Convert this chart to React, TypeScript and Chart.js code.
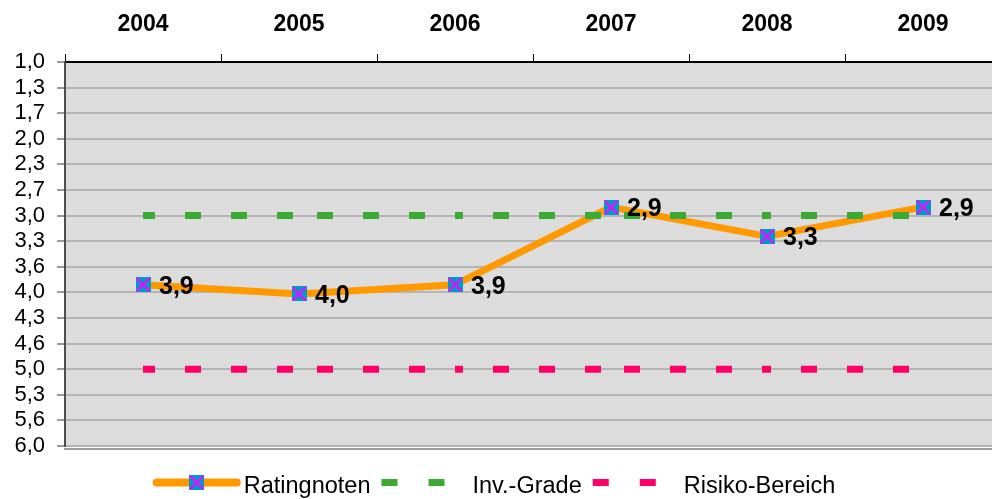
import React, { useEffect, useRef } from "react";
import { Chart, registerables } from "chart.js";

Chart.register(...registerables);

// ---- data ----
const YEARS = ["2004", "2005", "2006", "2007", "2008", "2009"];
const RATINGS = [3.9, 4.02, 3.9, 2.89, 3.27, 2.89];
const INV_GRADE = [3, 3, 3, 3, 3, 3];
const RISIKO = [5, 5, 5, 5, 5, 5];
const Y_TICK_LABELS = [
  "1,0", "1,3", "1,7", "2,0", "2,3", "2,7", "3,0", "3,3",
  "3,6", "4,0", "4,3", "4,6", "5,0", "5,3", "5,6", "6,0",
];
const SERIES_NAMES = ["Ratingnoten", "Inv.-Grade", "Risiko-Bereich"];
const Y_MIN = 1;
const Y_MAX = 6;

// ---- style ----
const FONT = '"Liberation Sans", Arial, Helvetica, sans-serif';
const ORANGE = "#FF9900";
const GREEN = "#3AAA35";
const PINK = "#FF0066";
const BLUE = "#0099CC";
const MAGENTA = "#FF00FF";
const DASH_OFFSETS = [4, 28, 8, 33, 12];
const RIGHT_OVERFLOW = 9; // plot area runs past the right edge of the canvas

function makeMarker(): HTMLCanvasElement {
  const c = document.createElement("canvas");
  c.width = 15;
  c.height = 15;
  const g = c.getContext("2d")!;
  g.fillStyle = BLUE;
  g.fillRect(0, 0, 15, 15);
  g.strokeStyle = MAGENTA;
  g.lineWidth = 2;
  g.beginPath();
  g.moveTo(1, 1);
  g.lineTo(14, 14);
  g.moveTo(14, 1);
  g.lineTo(1, 14);
  g.stroke();
  return c;
}

const fmt = (v: number) => v.toFixed(1).replace(".", ",");

export default function App() {
  const ref = useRef<HTMLCanvasElement | null>(null);

  useEffect(() => {
    document.body.style.margin = "0";
    const canvas = ref.current;
    if (!canvas) return;
    const marker = makeMarker();

    const stretchPlugin = {
      id: "stretchPlugin",
      afterLayout(chart: any) {
        const right = chart.width + RIGHT_OVERFLOW;
        chart.chartArea.right = right;
        chart.chartArea.width = right - chart.chartArea.left;
        const xs = chart.scales.x;
        xs.right = right;
        xs.width = right - xs.left;
        xs.configure();
      },
    };

    const bgPlugin = {
      id: "bgPlugin",
      beforeDraw(chart: any) {
        const { ctx, chartArea: a } = chart;
        ctx.save();
        ctx.fillStyle = "#DCDCDC";
        ctx.fillRect(a.left, a.top, a.right - a.left, a.bottom - a.top);
        ctx.restore();
      },
    };

    const labelPlugin = {
      id: "labelPlugin",
      afterDatasetsDraw(chart: any) {
        const { ctx } = chart;
        const meta = chart.getDatasetMeta(0);
        const data = chart.data.datasets[0].data as number[];
        ctx.save();
        ctx.font = `bold 25px ${FONT}`;
        ctx.fillStyle = "#000";
        ctx.textAlign = "left";
        ctx.textBaseline = "alphabetic";
        meta.data.forEach((el: any, i: number) => {
          ctx.fillText(fmt(data[i]), el.x + 16, el.y + 9);
        });
        ctx.restore();
      },
    };

    const decoPlugin = {
      id: "decoPlugin",
      afterDraw(chart: any) {
        const { ctx, chartArea: a } = chart;
        ctx.save();
        // bottom frame line
        ctx.strokeStyle = "#9A9A9A";
        ctx.lineWidth = 2;
        ctx.beginPath();
        ctx.moveTo(a.left - 1, a.bottom + 3);
        ctx.lineTo(a.right, a.bottom + 3);
        ctx.stroke();

        // legend
        const symW = 88;
        const gapText = 3;
        const gapItem = 11;
        ctx.font = `23.5px ${FONT}`;
        const widths = SERIES_NAMES.map((t) => ctx.measureText(t).width);
        const total =
          widths.reduce((s, w) => s + symW + gapText + w, 0) +
          gapItem * (SERIES_NAMES.length - 1);
        let x = (chart.width - total) / 2 - 2;
        const cy = 482.5;
        const base = 493;
        SERIES_NAMES.forEach((name, i) => {
          if (i === 0) {
            ctx.strokeStyle = ORANGE;
            ctx.lineWidth = 8;
            ctx.lineCap = "round";
            ctx.beginPath();
            ctx.moveTo(x + 4, cy);
            ctx.lineTo(x + symW - 4, cy);
            ctx.stroke();
            ctx.drawImage(marker, x + symW / 2 - 7.5, cy - 7.5);
          } else {
            ctx.fillStyle = i === 1 ? GREEN : PINK;
            ctx.fillRect(x, cy - 3.5, 16, 7);
            ctx.fillRect(x + 47, cy - 3.5, 16, 7);
          }
          ctx.fillStyle = "#000";
          ctx.textAlign = "left";
          ctx.textBaseline = "alphabetic";
          ctx.fillText(name, x + symW + gapText, base);
          x += symW + gapText + widths[i] + gapItem;
        });
        ctx.restore();
      },
    };

    const dashSeg = {
      borderDashOffset: (c: any) => DASH_OFFSETS[c.p0DataIndex] ?? 0,
    };

    const chart = new Chart(canvas, {
      type: "line",
      data: {
        labels: YEARS,
        datasets: [
          {
            label: SERIES_NAMES[0],
            data: RATINGS,
            showLine: false,
            pointStyle: marker as any,
            pointRadius: 7,
            pointHoverRadius: 7,
            borderColor: ORANGE,
            backgroundColor: BLUE,
          },
          {
            label: SERIES_NAMES[1],
            data: INV_GRADE,
            borderColor: GREEN,
            borderWidth: 7,
            borderDash: [16, 30],
            pointRadius: 0,
            fill: false,
            segment: dashSeg as any,
          },
          {
            label: SERIES_NAMES[2],
            data: RISIKO,
            borderColor: PINK,
            borderWidth: 7,
            borderDash: [16, 30],
            pointRadius: 0,
            fill: false,
            segment: dashSeg as any,
          },
          {
            label: SERIES_NAMES[0] + " (Linie)",
            data: RATINGS,
            borderColor: ORANGE,
            borderWidth: 7,
            pointRadius: 0,
            tension: 0,
            borderJoinStyle: "round",
            borderCapStyle: "round",
            fill: false,
          },
        ],
      },
      options: {
        responsive: false,
        animation: false,
        devicePixelRatio: 1,
        layout: { padding: { left: 0, right: 0, top: 0, bottom: 53 } },
        plugins: {
          legend: { display: false },
          tooltip: { enabled: false },
        },
        scales: {
          x: {
            type: "category",
            position: "top",
            offset: true,
            grid: {
              offset: true,
              drawOnChartArea: false,
              drawTicks: true,
              tickLength: 8,
              tickColor: "#000",
              tickWidth: 1,
            },
            border: { display: true, color: "#000", width: 2 },
            ticks: {
              color: "#000",
              font: { family: FONT, size: 23, weight: "bold" },
              padding: 16,
              maxRotation: 0,
              autoSkip: false,
            },
            afterFit(s: any) {
              s.height = 62;
            },
          },
          y: {
            type: "linear",
            reverse: true,
            min: Y_MIN,
            max: Y_MAX,
            afterBuildTicks(s: any) {
              const n = Y_TICK_LABELS.length - 1;
              s.ticks = Y_TICK_LABELS.map((_, i) => ({
                value: Y_MIN + ((Y_MAX - Y_MIN) * i) / n,
              }));
            },
            ticks: {
              callback: (_v: any, i: number) => Y_TICK_LABELS[i],
              color: "#000",
              font: { family: FONT, size: 22 },
              padding: 12,
              autoSkip: false,
            },
            grid: {
              color: (c: any) => (c.index === 0 ? "rgba(0,0,0,0)" : "#B4B4B4"),
              lineWidth: 2,
              tickColor: "#333",
              tickLength: 8,
              tickWidth: 1,
            },
            border: { display: true, color: "#4D4D4D", width: 2 },
            afterFit(s: any) {
              s.width = 65;
            },
          },
        },
      },
      plugins: [stretchPlugin, bgPlugin, labelPlugin, decoPlugin],
    });

    return () => chart.destroy();
  }, []);

  return (
    <div style={{ width: 992, height: 499 }}>
      <canvas ref={ref} width={992} height={499} style={{ display: "block" }} />
    </div>
  );
}
